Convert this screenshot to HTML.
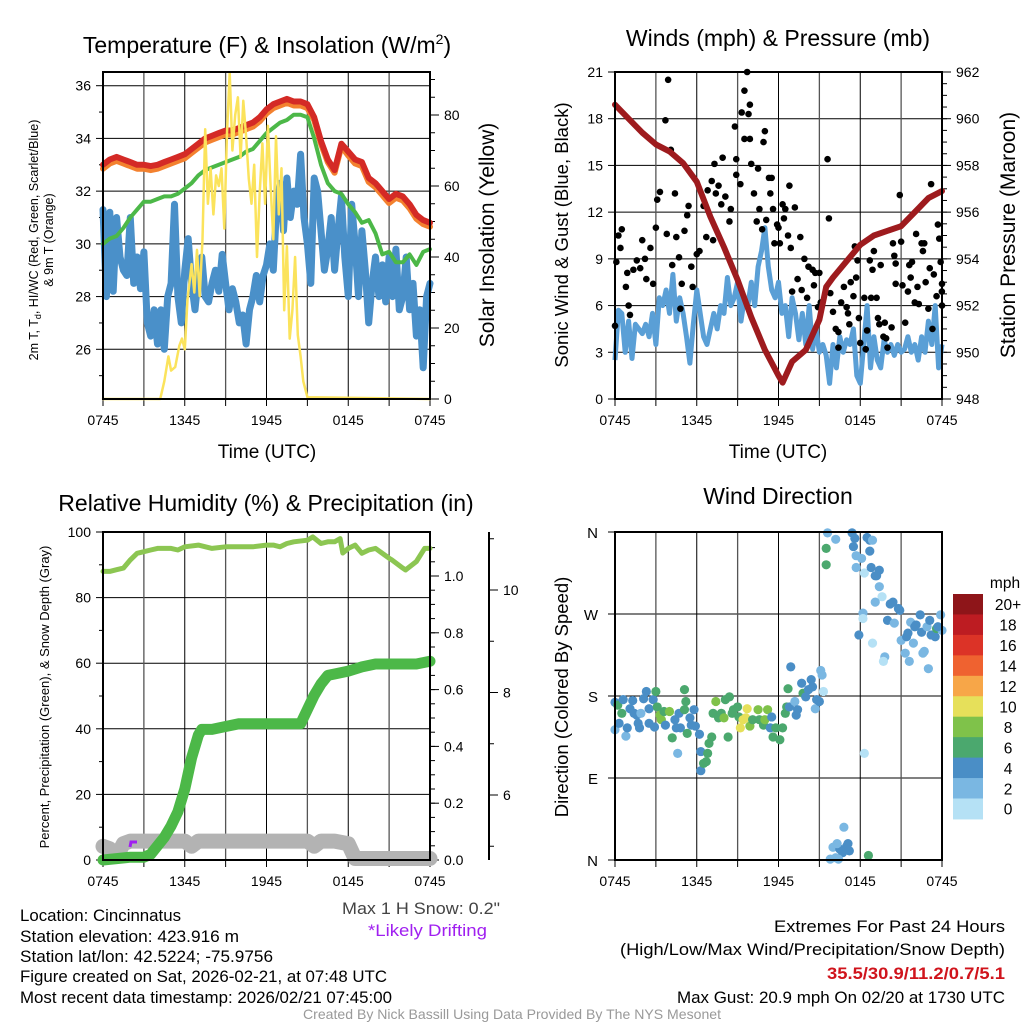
<!DOCTYPE html>
<html><head><meta charset="utf-8"><style>
html,body{margin:0;padding:0;background:#fff;}
svg{display:block;font-family:"Liberation Sans",sans-serif;}
</style></head><body>
<svg id="fig" width="1024" height="1024" viewBox="0 0 1024 1024" xmlns="http://www.w3.org/2000/svg">
<g id="g1"></g>
<g id="g2"></g>
<g id="g3"></g>
<g id="g4"></g>
<g font-size="16.5" fill="#000">
<text x="342" y="914" textLength="158" lengthAdjust="spacingAndGlyphs" fill="#444">Max 1 H Snow: 0.2"</text>
<text x="368" y="936" textLength="119" lengthAdjust="spacingAndGlyphs" fill="#a020f0">*Likely Drifting</text>
<text x="20" y="921" textLength="161" lengthAdjust="spacingAndGlyphs">Location: Cincinnatus</text>
<text x="20" y="942" textLength="219" lengthAdjust="spacingAndGlyphs">Station elevation: 423.916 m</text>
<text x="20" y="962" textLength="253" lengthAdjust="spacingAndGlyphs">Station lat/lon: 42.5224; -75.9756</text>
<text x="20" y="982" textLength="367" lengthAdjust="spacingAndGlyphs">Figure created on Sat, 2026-02-21, at 07:48 UTC</text>
<text x="20" y="1003" textLength="372" lengthAdjust="spacingAndGlyphs">Most recent data timestamp: 2026/02/21 07:45:00</text>
<text x="774" y="932" textLength="231" lengthAdjust="spacingAndGlyphs">Extremes For Past 24 Hours</text>
<text x="620" y="955" textLength="385" lengthAdjust="spacingAndGlyphs">(High/Low/Max Wind/Precipitation/Snow Depth)</text>
<text x="827" y="979" textLength="178" lengthAdjust="spacingAndGlyphs" fill="#d0141c" font-weight="bold">35.5/30.9/11.2/0.7/5.1</text>
<text x="677" y="1003" textLength="328" lengthAdjust="spacingAndGlyphs">Max Gust: 20.9 mph On 02/20 at 1730 UTC</text>
<text x="303" y="1019" textLength="418" lengthAdjust="spacingAndGlyphs" fill="#999" font-size="14">Created By Nick Bassill Using Data Provided By The NYS Mesonet</text>
</g>
</svg>
<script>
// ---------- Panel 1 data ----------
const tHalf = [0,0.5,1,1.5,2,2.5,3,3.5,4,4.5,5,5.5,6,6.5,7,7.5,8,8.5,9,9.5,10,10.5,11,11.5,12,12.5,13,13.5,14,14.5,15,15.5,16,16.5,17,17.5,18,18.5,19,19.5,20,20.5,21,21.5,22,22.5,23,23.5,24];
const tempT = [33.0,33.2,33.3,33.2,33.1,33.0,33.0,32.95,33.0,33.1,33.2,33.3,33.4,33.6,33.8,34.0,34.1,34.2,34.3,34.3,34.4,34.5,34.6,34.8,35.1,35.3,35.4,35.5,35.4,35.4,35.3,34.8,33.9,33.2,32.8,33.8,33.5,33.2,33.1,32.5,32.3,32.0,31.7,31.9,31.8,31.5,31.1,30.9,30.8];
const temp9m = [32.85,33.05,33.15,33.05,32.95,32.85,32.85,32.8,32.85,32.95,33.05,33.15,33.25,33.45,33.65,33.85,33.95,34.05,34.15,34.15,34.25,34.35,34.45,34.65,34.95,35.15,35.25,35.35,35.25,35.25,35.15,34.7,33.8,33.1,32.7,33.7,33.35,33.05,32.95,32.35,32.15,31.85,31.55,31.75,31.65,31.35,30.95,30.75,30.65];
const dewT = [30.0,30.2,30.3,30.6,31.0,31.3,31.6,31.6,31.7,31.8,31.8,31.9,32.1,32.3,32.6,32.8,32.9,33.0,33.1,33.2,33.3,33.5,33.6,33.9,34.2,34.4,34.6,34.7,34.9,34.9,34.8,34.0,33.0,32.3,32.0,31.9,31.5,31.2,30.8,30.9,30.4,29.6,29.7,29.3,29.3,29.6,29.2,29.7,29.8];
const tQuarter = Array.from({length:97},(_,i)=>i*0.25);
const windChill = [31.3,28.0,31.2,28.2,31.0,29.5,29.0,28.8,31.0,28.5,29.5,28.3,29.7,27.0,26.5,27.5,26.2,27.5,26.0,28.0,28.5,31.5,28.0,27.0,29.0,30.2,28.5,27.5,28.8,29.5,28.0,27.8,28.5,29.0,28.2,29.6,28.5,27.5,28.3,27.8,27.0,27.3,26.2,27.5,28.0,28.8,27.8,28.8,29.2,30.0,29.0,31.5,32.3,30.5,32.5,31.0,32.0,31.5,33.4,31.0,30.0,28.5,32.5,32.0,30.5,29.0,29.8,31.0,29.0,30.5,31.8,29.5,28.0,31.5,30.0,28.0,30.5,29.0,27.0,28.5,29.5,28.0,29.2,27.8,29.5,28.0,29.8,27.5,28.0,29.5,27.5,28.5,26.5,27.5,25.3,28.0,28.5];
const solarT = [0,4.2,4.5,4.8,5.0,5.3,5.6,5.8,6.0,6.2,6.5,6.7,6.9,7.1,7.3,7.5,7.7,7.9,8.1,8.3,8.5,8.7,8.9,9.1,9.3,9.5,9.7,9.9,10.1,10.3,10.5,10.7,10.9,11.1,11.3,11.5,11.7,11.9,12.1,12.3,12.5,12.7,12.9,13.1,13.3,13.5,13.7,13.9,14.1,14.3,14.5,14.7,15.0,24];
const solarV = [0,0,5,12,8,9,15,17,14,28,38,30,42,29,45,76,55,65,52,63,60,65,48,75,92,70,80,85,68,84,74,62,55,66,40,58,72,55,77,60,45,74,52,65,25,43,17,25,40,18,12,5,0.5,0];
const p1LeftTicks = [26,28,30,32,34,36];
const p1RightTicks = [0,20,40,60,80];
const timeLabels = ["0745","1345","1945","0145","0745"];
const timeLabelHours = [0,6,12,18,24];

// ---------- Panel 2 data ----------
const presT = [0,1,2,3,4,5,6,7,8,9,10,11,12,12.3,13,14,15,15.5,16,17,18,19,20,21,22,23,24];
const presV = [960.6,960.0,959.4,958.9,958.6,958.1,957.3,955.8,954.5,953.1,951.5,950.1,949.0,948.7,949.6,950.1,951.4,952.8,953.2,953.9,954.6,955.0,955.2,955.4,956.0,956.6,956.9];
const sonicV = [2.5,5.7,5.5,3.0,5.0,2.6,4.8,4.5,4.2,4.8,4.0,5.5,3.5,6.5,6.0,7.0,5.5,8.0,5.0,6.5,5.5,4.0,2.3,4.8,7.0,5.5,4.0,3.5,4.5,5.5,4.5,6.0,5.5,7.8,6.0,6.5,7.5,5.0,6.5,6.0,7.5,6.0,8.5,9.5,11.0,8.5,7.0,6.5,7.5,5.5,6.0,4.0,6.5,5.5,3.8,5.5,3.5,6.0,3.2,4.5,3.0,3.5,2.8,1.0,3.5,2.0,4.0,3.0,3.8,3.5,4.5,1.5,1.0,3.5,6.0,2.0,4.0,2.5,2.0,3.8,3.0,3.5,2.8,3.5,3.0,3.2,4.0,3.0,3.5,2.5,4.0,3.0,5.0,3.5,6.0,2.0,3.5];
const gustT = [0,0.1,0.25,0.5,0.4,0.8,1.0,1.1,0.9,1.35,1.6,1.85,2.0,2.2,2.3,2.6,2.8,3.0,3.1,3.3,3.7,3.9,3.8,4.1,4.2,4.4,4.5,4.7,4.8,4.9,5.1,5.3,5.4,5.6,5.7,6.0,6.2,6.5,6.7,6.8,7.1,7.3,7.2,7.4,7.6,7.8,7.9,8.1,8.4,8.5,8.8,8.9,8.9,9.2,9.3,9.5,9.7,9.8,9.9,9.5,9.9,10.0,10.2,10.4,10.5,10.6,10.8,10.9,11.0,11.1,11.3,11.4,11.5,11.6,11.7,11.9,12.0,12.1,12.3,12.4,12.5,12.7,12.8,12.9,13.0,13.2,13.4,13.6,13.7,13.9,14.1,14.2,14.5,14.6,14.7,14.9,15.0,15.1,15.6,15.7,15.8,16.0,16.2,16.4,16.4,16.6,16.8,17.0,17.1,17.2,17.3,17.5,17.6,17.7,17.8,17.9,18.0,18.3,18.4,18.5,18.7,18.8,18.9,19.0,19.2,19.3,19.4,19.5,19.7,19.8,19.9,20.0,20.3,20.4,20.5,20.6,20.6,20.9,21.0,21.1,21.3,21.5,21.6,21.7,21.8,22.0,22.1,22.2,22.3,22.5,22.6,22.7,22.8,23.0,23.1,23.2,23.3,23.4,23.6,23.7,23.8,23.9,23.99,24,24];
const gustV = [4.7,8.8,10.5,10.9,9.7,7.2,6.0,5.4,8.1,8.3,8.9,8.4,10.2,9.0,7.7,9.7,7.4,11.0,12.8,13.3,17.9,20.5,10.6,16.0,8.6,13.2,10.4,9.1,5.8,7.4,10.8,11.8,12.4,8.5,7.2,9.3,9.5,12.4,10.4,13.4,14.0,15.1,10.2,13.2,13.7,12.5,15.5,13.0,11.4,12.2,17.5,14.4,15.4,13.8,18.4,19.8,21.0,18.3,18.9,16.7,16.7,15.1,13.2,11.4,14.8,12.2,10.9,16.5,17.2,11.5,14.2,13.2,14.2,12.2,10.0,11.2,11.0,10.0,12.5,11.6,12.2,10.5,13.7,9.7,6.9,12.3,7.7,10.4,7.0,9.0,6.5,8.5,8.3,7.3,8.1,5.9,8.1,6.2,15.4,11.6,6.8,5.6,4.5,3.3,4.3,6.2,7.2,5.9,5.5,4.8,7.5,6.6,9.8,7.8,8.9,5.2,3.6,6.5,3.2,4.4,8.9,6.5,8.3,9.5,6.5,5.2,4.8,8.6,4.0,4.9,3.9,3.3,4.6,10.0,9.2,8.7,7.4,13.1,10.1,7.3,4.9,6.9,8.6,7.8,8.8,6.2,10.6,7.2,6.1,10.0,9.5,10.0,7.5,5.8,8.4,13.8,4.5,8.0,6.6,11.2,10.3,8.8,6.9,7.4,6.0];
const p2LeftTicks = [0,3,6,9,12,15,18,21];
const p2RightTicks = [948,950,952,954,956,958,960,962];

// ---------- Panel 3 data ----------
const rhT = [0,0.5,1,1.5,2,2.5,3,3.5,4,5,5.5,6,7,8,9,10,11,12,12.5,13,13.5,14,15,15.4,16,16.5,17,17.4,17.6,18,18.5,19,19.5,20,20.5,21,21.2,22,22.2,23,23.6,24];
const rhV = [88,88,88.5,89,91.5,93.5,94,94.5,95,95,94.5,95.5,96,95,95.5,95.5,95.5,96,96,95.5,96.5,97,97.5,98.5,96.5,97,97,98,93.6,95,96,93.5,94.5,95,93.5,92,91.5,89,88.4,91,95,95];
const precipT = [0,1,2,3,3.5,4,4.5,5,5.5,6,6.5,7,7.25,8,9,10,11,12,13,14,14.5,15,15.5,16,16.5,17,18,19,20,21,22,23,24];
const precipV = [0,0.005,0.01,0.01,0.02,0.05,0.08,0.12,0.17,0.25,0.36,0.44,0.46,0.46,0.47,0.48,0.48,0.48,0.48,0.48,0.48,0.53,0.58,0.62,0.65,0.655,0.665,0.68,0.69,0.69,0.69,0.69,0.70];
const snowT = [0,0.5,1,1.5,2,3,4,5,6,6.5,7,8,9,10,11,12,13,14,15,15.5,16,17,18,18.5,19,20,21,22,23,24];
const snowV = [5.0,4.95,4.8,5.05,5.1,5.1,5.1,5.1,5.1,5.0,5.1,5.1,5.1,5.1,5.1,5.1,5.1,5.1,5.1,5.0,5.1,5.1,5.05,4.76,4.76,4.76,4.76,4.76,4.76,4.76];
const p3LeftTicks = [0,20,40,60,80,100];
const p3RightTicks = [0,0.2,0.4,0.6,0.8,1.0];
const p3SnowTicks = [6,8,10];

// ---------- Panel 4 data ----------
const dirT = [0,0,0.2,0.3,0.6,0.5,0.8,0.9,1.1,1.3,1.4,1.6,1.7,1.8,1.9,2.1,2.3,2.5,2.5,2.8,2.9,3.0,3.1,3.3,3.4,3.6,3.7,4.0,4.2,4.4,4.5,4.6,4.7,4.8,5.1,5.2,5.1,5.3,5.5,5.6,5.8,5.9,6.2,6.3,6.3,6.5,6.7,6.8,6.9,7.1,7.2,7.4,7.6,7.8,8.0,8.1,8.3,8.4,8.6,8.7,9.0,9.1,9.2,9.4,9.6,9.7,9.9,10.1,10.5,10.6,10.9,11.0,11.2,11.4,11.5,11.6,11.8,12.1,12.3,12.5,12.6,12.7,12.8,12.9,13.2,13.3,13.4,13.7,13.8,14.0,14.2,14.4,14.5,14.7,14.8,15.0,15.1,15.2,15.3,15.5,15.5,15.6,16.2,17.4,17.5,17.6,17.7,17.7,18.1,18.3,18.5,18.7,18.7,18.8,18.9,19.1,19.2,19.4,19.4,19.6,19.1,18.2,18.2,17.9,18.9,19.8,19.7,20.0,20.2,20.4,20.8,20.9,20.5,21.0,21.3,21.4,21.5,21.6,21.7,21.9,22.0,22.1,22.4,22.5,22.6,22.7,22.9,23.0,23.1,23.2,23.5,23.6,23.9,24.0,23.7,18.3,16.8,16.0,16.5,17.0,17.2,16.7,15.8,16.2,18.6,17.1,16.3,16.4];
const dirD = [143,173,170,150,176,161,136,145,166,175,161,159,150,145,161,177,185,166,150,176,146,185,168,159,154,163,148,163,134,154,145,117,161,145,187,174,165,139,156,148,165,147,138,119,98,106,108,117,128,135,161,174,156,161,156,176,135,179,161,165,168,157,145,154,156,166,147,154,165,154,148,154,165,145,157,135,145,132,145,161,168,188,168,212,174,159,165,194,183,179,187,198,190,166,176,174,208,203,185,342,324,359,352,359,344,353,334,321,331,315,354,339,351,321,351,312,312,318,300,289,283,271,265,247,238,223,218,263,281,283,276,274,260,241,227,245,249,218,261,238,256,258,269,250,227,229,256,210,263,247,245,254,269,252,256,117,36,14,12,15,10,8,1,2.5,5,18,18,1];
const dirS = [3,5,7,5,5,7,3,5,5,5,5,5,5,5,3,5,5,5,5,5,5,7,7,9,9,7,5,9,7,5,5,3,5,5,7,7,7,7,5,5,5,5,5,5,5,7,7,7,7,7,7,9,7,7,9,7,7,7,7,7,7,7,11,11,11,11,9,7,9,7,7,9,9,5,5,7,7,7,7,7,7,7,5,5,3,5,5,5,7,5,5,5,5,3,5,5,3,3,1,7,7,3,3,5,5,5,3,3,3,1,5,5,5,5,3,5,5,5,3,1,3,3,1,5,1,3,1,5,5,5,5,5,3,3,3,5,5,3,3,3,5,5,5,5,3,3,3,3,5,5,5,7,3,3,5,1,3,3,5,5,5,5,3,3,7,5,3,3];
const speedBins = ["0","2","4","6","8","10","12","14","16","18","20+"];
const speedColors = ["#b5e1f5","#7ab7e2","#4a8ec6","#4ba86e","#7fc24a","#e6e05a","#f7a648","#ef6230","#dc3327","#bd1c22","#8e1519"];
const dirTicks = ["N","E","S","W","N"];

// ---------- helpers ----------
const NS="http://www.w3.org/2000/svg";
function mk(parent,tag,attrs){const e=document.createElementNS(NS,tag);for(const k in attrs)e.setAttribute(k,attrs[k]);parent.appendChild(e);return e;}
function txt(parent,x,y,s,size,anchor,extra){const e=mk(parent,"text",Object.assign({x:x,y:y,"font-size":size,"text-anchor":anchor||"middle",fill:"#000"},extra||{}));e.textContent=s;return e;}
function pathFrom(xs,ys,fx,fy){let d="";for(let i=0;i<xs.length;i++){d+=(i?"L":"M")+fx(xs[i]).toFixed(1)+","+fy(ys[i]).toFixed(1);}return d;}

function frame(g,L,R,T,B){
  for(let h=0;h<=24;h+=3){const x=L+h*(R-L)/24;
    const gl=mk(g,"line",{x1:x,y1:T,x2:x,y2:B,stroke:(h%6===0)?"#000":"#555","stroke-width":(h%6===0)?1:1.3});
    
    
    mk(g,"line",{x1:x,y1:B,x2:x,y2:B+7,stroke:"#000","stroke-width":1});
  }
  timeLabelHours.forEach((h,i)=>{const x=L+h*(R-L)/24;
    const t=txt(g,x,B+26,timeLabels[i],14);
    
    
  });
}
function hgrid(g,L,R,ys){ys.forEach(y=>{const l=mk(g,"line",{x1:L,y1:y,x2:R,y2:y,stroke:"#000","stroke-width":1});
  
  });}
function border(g,L,R,T,B){const r=mk(g,"rect",{x:L,y:T,width:R-L,height:B-T,fill:"none",stroke:"#000","stroke-width":2});
  
  }
function leftTicks(g,L,vals,fy,fmt){vals.forEach(v=>{const y=fy(v);mk(g,"line",{x1:L-7,y1:y,x2:L,y2:y,stroke:"#000"});
  const t=txt(g,L-12,y+5,fmt?fmt(v):String(v),14,"end");
  
  });}
function rightTicks(g,R,vals,fy,fmt,minor){
  if(minor){minor.forEach(v=>mk(g,"line",{x1:R,y1:fy(v),x2:R+5,y2:fy(v),stroke:"#000"}));}
  vals.forEach(v=>{const y=fy(v);mk(g,"line",{x1:R,y1:y,x2:R+9,y2:y,stroke:"#000"});
  const t=txt(g,R+14,y+5,fmt?fmt(v):String(v),14,"start");
  
  });}
function rotText(g,x,y,s,size,name,extra){const t=mk(g,"text",Object.assign({x:0,y:0,"font-size":size,"text-anchor":"middle",transform:`translate(${x},${y}) rotate(-90)`,fill:"#000"},extra||{}));t.textContent=s;
  
  return t;}

// ---------- Panel 1 ----------
(function(){
  const g=document.getElementById("g1");
  const L=103,R=430,T=72,B=399;
  const fx=t=>L+t*(R-L)/24;
  const fy=v=>349.3-(v-26)*26.36;
  const fyR=v=>399-v*3.55;
  hgrid(g,L,R,p1LeftTicks.map(fy));
  frame(g,L,R,T,B);
  const minorL=[25,27,29,31,33,35];
  minorL.forEach(v=>mk(g,"line",{x1:L-4,y1:fy(v),x2:L,y2:fy(v),stroke:"#000"}));
  leftTicks(g,L,p1LeftTicks,fy);
  const minorR=[];for(let v=0;v<=90;v+=5)minorR.push(v);
  rightTicks(g,R,p1RightTicks,fyR,null,minorR);
  const sets=[[tQuarter,windChill,"#4a90c9",7,"wind-chill-line",fy],[tHalf,temp9m,"#f3812f",6,"temp-9m-line",fy],[tHalf,tempT,"#d42a26",6,"temp-2m-line",fy],[tHalf,dewT,"#4cb848",4,"dewpoint-line",fy],[solarT,solarV,"#fbe35c",2.5,"solar-insolation-line",fyR]];
  sets.forEach(s=>{const p=mk(g,"path",{d:pathFrom(s[0],s[1],fx,s[5]),fill:"none",stroke:s[2],"stroke-width":s[3],"stroke-linejoin":"round","stroke-linecap":"round"});
    
    });
  border(g,L,R,T,B);
  const ti=txt(g,267,53,"",23);ti.innerHTML='Temperature (F) &amp; Insolation (W/m<tspan dy="-9" font-size="14">2</tspan><tspan dy="9">)</tspan>';
  
  
  const xt=txt(g,267,458,"Time (UTC)",19);
  
  
  const y1=rotText(g,38,240,"",12.5,"y-axis-title");y1.innerHTML='2m T, T<tspan dy="3" font-size="9">d</tspan><tspan dy="-3">, HI/WC (Red, Green, Scarlet/Blue)</tspan>';
  rotText(g,53,240,"& 9m T (Orange)",12.5,"y-axis-title-line2");
  rotText(g,494,235,"Solar Insolation (Yellow)",21,"right-axis-title");
})();

// ---------- Panel 2 ----------
(function(){
  const g=document.getElementById("g2");
  const L=615,R=942,T=72,B=399;
  const fx=t=>L+t*(R-L)/24;
  const fy=v=>B-v*(B-T)/21;
  const fyR=v=>B-(v-948)*(B-T)/14;
  hgrid(g,L,R,p2LeftTicks.map(fy));
  frame(g,L,R,T,B);
  leftTicks(g,L,p2LeftTicks,fy);
  const minorR=[];for(let v=948;v<=962;v+=0.5)minorR.push(v);
  rightTicks(g,R,p2RightTicks,fyR,null,minorR);
  const s=mk(g,"path",{d:pathFrom(tQuarter,sonicV,fx,fy),fill:"none",stroke:"#5a9fd6","stroke-width":5,"stroke-linejoin":"round"});
  
  
  gustT.forEach((t,i)=>{const c=mk(g,"circle",{cx:fx(t),cy:fy(gustV[i]),r:3.3,fill:"#000"});
    
    });
  const p=mk(g,"path",{d:pathFrom(presT,presV,fx,fyR),fill:"none",stroke:"#9e1b1e","stroke-width":6,"stroke-linejoin":"round","stroke-linecap":"round"});
  
  
  border(g,L,R,T,B);
  const ti=txt(g,778,46,"Winds (mph) & Pressure (mb)",23);
  
  
  const xt=txt(g,778,458,"Time (UTC)",19);
  
  
  rotText(g,568,235,"Sonic Wind & Gust (Blue, Black)",18.5,"y-axis-title");
  rotText(g,1015,235,"Station Pressure (Maroon)",21,"right-axis-title");
})();

// ---------- Panel 3 ----------
(function(){
  const g=document.getElementById("g3");
  const L=103,R=430,T=532,B=860;
  const fx=t=>L+t*(R-L)/24;
  const fy=v=>B-v*3.28;
  const fyR=v=>B-v*284;
  const fyS=v=>590+(10-v)*51.25;
  hgrid(g,L,R,p3LeftTicks.map(fy));
  frame(g,L,R,T,B);
  const minorL=[10,30,50,70,90];
  minorL.forEach(v=>mk(g,"line",{x1:L-4,y1:fy(v),x2:L,y2:fy(v),stroke:"#000"}));
  leftTicks(g,L,p3LeftTicks,fy);
  const minorR=[];for(let v=0;v<=1.15;v+=0.05)minorR.push(v);
  rightTicks(g,R,p3RightTicks,fyR,v=>v.toFixed(1),minorR);
  const sa=mk(g,"line",{x1:489,y1:532,x2:489,y2:860,stroke:"#000","stroke-width":2});
  
  
  [4,5,7,9,11].forEach(v=>{const y=fyS(v);if(y>=532&&y<=860)mk(g,"line",{x1:489,y1:y,x2:494,y2:y,stroke:"#000"});});
  p3SnowTicks.forEach(v=>{const y=fyS(v);mk(g,"line",{x1:489,y1:y,x2:498,y2:y,stroke:"#000"});
    const t=txt(g,503,y+5,String(v),14,"start");
    
    });
  const sn=mk(g,"path",{d:pathFrom(snowT,snowV,fx,fyS),fill:"none",stroke:"#b3b3b3","stroke-width":15,"stroke-linejoin":"round","stroke-linecap":"round"});
  
  
  const pr=mk(g,"path",{d:pathFrom(precipT,precipV,fx,fyR),fill:"none",stroke:"#4cb848","stroke-width":11,"stroke-linejoin":"round","stroke-linecap":"round"});
  
  
  const rh=mk(g,"path",{d:pathFrom(rhT,rhV,fx,fy),fill:"none",stroke:"#8cc652","stroke-width":5,"stroke-linejoin":"round","stroke-linecap":"round"});
  
  
  const pu=mk(g,"path",{d:"M130,847 L131,842 L137,842",fill:"none",stroke:"#a020f0","stroke-width":3});
  
  
  border(g,L,R,T,B);
  const ti=txt(g,266,511,"Relative Humidity (%) & Precipitation (in)",23);
  
  
  rotText(g,49,697,"Percent, Precipitation (Green), & Snow Depth (Gray)",13,"y-axis-title");
})();

// ---------- Panel 4 ----------
(function(){
  const g=document.getElementById("g4");
  const L=615,R=942,T=532,B=860;
  const fx=t=>L+t*(R-L)/24;
  const fy=d=>B-d*(B-T)/360;
  hgrid(g,L,R,[0,90,180,270,360].map(fy));
  frame(g,L,R,T,B);
  dirTicks.forEach((s,i)=>{const y=fy(i*90);mk(g,"line",{x1:L-7,y1:y,x2:L,y2:y,stroke:"#000"});
    const t=txt(g,L-17,y+6,s,15,"end");
    
    });
  dirT.forEach((t,i)=>{const bin=Math.min(10,Math.floor(dirS[i]/2));
    const c=mk(g,"circle",{cx:fx(t),cy:fy(dirD[i]),r:4.6,fill:speedColors[bin]});
    
    });
  border(g,L,R,T,B);
  const ti=txt(g,778,504,"Wind Direction",23);
  
  
  rotText(g,568,697,"Direction (Colored By Speed)",18.5,"y-axis-title");
  const top=594,h=20.45;
  for(let i=0;i<11;i++){const k=10-i;
    const r=mk(g,"rect",{x:953,y:top+i*h,width:30,height:h+0.5,fill:speedColors[k]});
    
    
    const t=txt(g,1008,top+i*h+h/2+6,speedBins[k],15.5);
    
    }
  const m=txt(g,1005,588,"mph",15.5);
  
  
})();
</script>
</body></html>
